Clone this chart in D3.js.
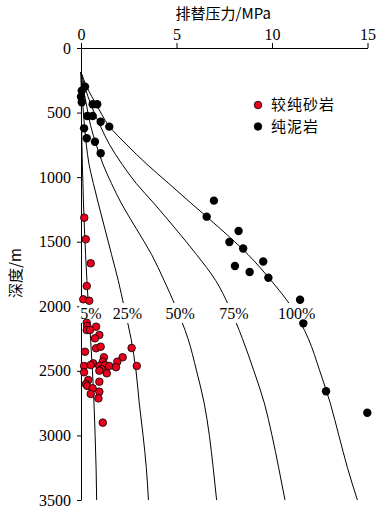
<!DOCTYPE html>
<html>
<head>
<meta charset="utf-8">
<script src="https://cdn.jsdelivr.net/npm/d3@7"></script>
<style>
  body { margin: 0; background: #fff; }
  .serif { font-family: "Liberation Serif", "Times New Roman", "DejaVu Serif", serif; }
  .cjk { font-family: "Noto Sans CJK SC", sans-serif; }
</style>
</head>
<body>
<div id="chart"></div>
<script>
// 排替压力 (MPa) vs 深度 (m)

// 较纯砂岩
const sandP = [0.17,0.25,0.51,0.30,0.12,0.43,0.30,0.33,0.79,0.30,0.47,0.96,0.73,0.79,1.03,2.65,0.21,2.18,1.20,1.90,0.64,1.14,0.96,0.16,0.51,1.26,1.48,1.83,2.92,1.08,1.35,0.16,0.96,0.38,0.26,0.96,0.33,0.61,0.96,0.51,0.91,1.14];
const sandD = [1314,1481,1667,1843,1946,1957,2127,2153,2158,2184,2184,2222,2248,2325,2313,2323,2352,2395,2395,2429,2442,2429,2462,2462,2455,2455,2462,2472,2462,2488,2519,2511,2499,2571,2602,2584,2617,2635,2661,2679,2713,2901];

// 纯泥岩
const mudP = [0.21,0.04,0.00,0.04,0.61,0.85,0.33,0.61,1.03,1.48,0.16,0.30,0.73,1.03,6.96,6.58,8.25,7.77,8.49,9.54,8.06,8.83,9.81,11.47,11.64,12.83,14.99];
const mudD = [300,331,377,420,436,436,527,527,571,609,622,699,726,815,1182,1306,1417,1502,1553,1653,1688,1735,1779,1949,2132,2658,2824];

// percentage curves
const curveDepths = [186,300,450,600,750,900,1050,1200,1400,1600,1800,2000,2250,2500,2750,3000,3250,3500];
const p5   = [0,0.01,0.02,0.03,0.05,0.07,0.10,0.13,0.18,0.24,0.31,0.39,0.50,0.60,0.68,0.74,0.79,0.82];
const p25  = [0,0.03,0.10,0.18,0.28,0.42,0.65,0.90,1.25,1.60,1.95,2.25,2.62,2.88,3.05,3.25,3.42,3.53];
const p50  = [0,0.10,0.30,0.50,0.80,1.15,1.60,2.10,2.90,3.70,4.35,4.95,5.60,6.05,6.45,6.72,6.92,7.10];
const p75  = [0,0.20,0.55,1.00,1.50,2.15,2.90,3.80,4.95,6.05,7.05,7.75,8.45,9.05,9.60,10.00,10.35,10.68];
const p100 = [0,0.30,0.85,1.45,2.40,3.45,4.60,5.75,7.30,8.75,9.95,11.00,11.90,12.50,13.05,13.50,13.95,14.47];
const curveNames = ["5%", "25%", "50%", "75%", "100%"];
const labelDepth = 2052;

const xTicks = [0, 5, 10, 15];
const yTicks = [0, 500, 1000, 1500, 2000, 2500, 3000, 3500];
const legendNames = ["较纯砂岩", "纯泥岩"];

const width = 390, height = 513;
const margin = {top: 48, right: 22.5, bottom: 13, left: 81};

const x = d3.scaleLinear().domain([0, 15]).range([margin.left, width - margin.right]);
const y = d3.scaleLinear().domain([0, 3500]).range([margin.top, height - margin.bottom]);

const svg = d3.select("#chart")
  .append("svg")
  .attr("width", width)
  .attr("height", height);

// axes
const xAxis = svg.append("g")
  .attr("transform", `translate(0,${margin.top})`)
  .call(d3.axisTop(x).tickValues(xTicks).tickFormat(d3.format("d"))
    .tickSize(5).tickPadding(3).tickSizeOuter(0));
const yAxis = svg.append("g")
  .attr("transform", `translate(${margin.left},0)`)
  .call(d3.axisLeft(y).tickValues(yTicks).tickFormat(d3.format("d"))
    .tickSize(4).tickPadding(6).tickSizeOuter(0));
[xAxis, yAxis].forEach(g => {
  g.attr("font-family", null);
  g.select(".domain").attr("stroke", "#000");
  g.selectAll(".tick line").attr("stroke", "#000");
  g.selectAll(".tick text").attr("class", "serif").attr("fill", "#000").attr("font-size", 16);
});

// curves
const curves = [p5, p25, p50, p75, p100].map((vals, i) => ({
  name: curveNames[i],
  pts: vals.map((v, j) => [v, curveDepths[j]])
}));
const line = d3.line()
  .x(d => x(d[0]))
  .y(d => y(d[1]))
  .curve(d3.curveMonotoneY);

svg.append("g")
  .attr("fill", "none")
  .attr("stroke", "#000")
  .attr("stroke-width", 1)
  .selectAll("path")
  .data(curves)
  .join("path")
  .attr("d", d => line(d.pts));

// curve labels, white box cuts the line
const valueAt = (pts, depth) => {
  const i = d3.bisector(d => d[1]).left(pts, depth);
  const a = pts[i - 1], b = pts[i];
  return a[0] + (b[0] - a[0]) * (depth - a[1]) / (b[1] - a[1]);
};
const labels = svg.append("g")
  .selectAll("g")
  .data(curves)
  .join("g")
  .attr("transform", d => `translate(${x(valueAt(d.pts, labelDepth)) + 2},${y(labelDepth)})`);
labels.append("rect")
  .attr("fill", "#fff");
labels.append("text")
  .attr("class", "serif")
  .attr("text-anchor", "middle")
  .attr("dy", "0.35em")
  .attr("font-size", 16)
  .attr("fill", "#000")
  .text(d => d.name);
labels.each(function() {
  const bb = d3.select(this).select("text").node().getBBox();
  d3.select(this).select("rect")
    .attr("x", bb.x - 1).attr("y", -10)
    .attr("width", bb.width + 2).attr("height", 20);
});

// points
const sand = sandP.map((v, i) => ({p: v, d: sandD[i]}));
const mud = mudP.map((v, i) => ({p: v, d: mudD[i]}));

svg.append("g")
  .selectAll("circle")
  .data(mud)
  .join("circle")
  .attr("cx", d => x(d.p))
  .attr("cy", d => y(d.d))
  .attr("r", 4.2)
  .attr("fill", "#000");

svg.append("g")
  .selectAll("circle")
  .data(sand)
  .join("circle")
  .attr("cx", d => x(d.p))
  .attr("cy", d => y(d.d))
  .attr("r", 3.8)
  .attr("fill", "#e8001c")
  .attr("stroke", "#000")
  .attr("stroke-width", 0.8);

// legend
const legend = svg.append("g")
  .selectAll("g")
  .data(legendNames)
  .join("g")
  .attr("transform", (d, i) => `translate(258,${105 + i * 21.5})`);
legend.append("circle")
  .attr("r", 3.8)
  .attr("fill", (d, i) => i ? "#000" : "#e8001c")
  .attr("stroke", "#000")
  .attr("stroke-width", 0.8);
legend.append("text")
  .attr("class", "cjk")
  .attr("x", 13)
  .attr("dy", "0.35em")
  .attr("font-size", 15)
  .attr("letter-spacing", 1)
  .text(d => d);

// axis titles
svg.append("text")
  .attr("class", "cjk")
  .attr("x", (x(0) + x(15)) / 2 - 1)
  .attr("y", 14)
  .attr("dy", "0.35em")
  .attr("text-anchor", "middle")
  .attr("font-size", 15)
  .text("排替压力/MPa");

svg.append("text")
  .attr("class", "cjk")
  .attr("transform", "translate(16,273) rotate(-90)")
  .attr("dy", "0.35em")
  .attr("text-anchor", "middle")
  .attr("font-size", 15)
  .text("深度/m");
</script>
</body>
</html>
